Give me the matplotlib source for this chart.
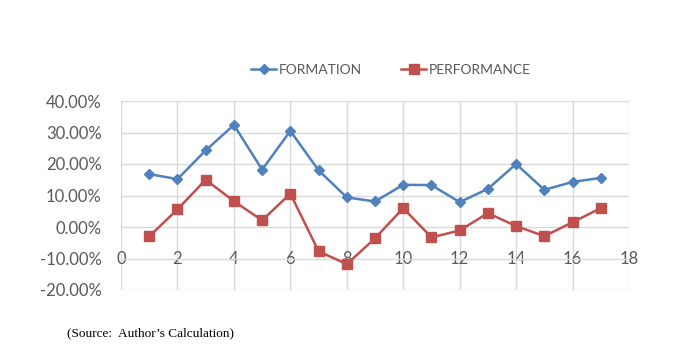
import matplotlib
matplotlib.use("Agg")
import matplotlib.pyplot as plt
from matplotlib.ticker import FuncFormatter, MultipleLocator

# period index and the two series (in %)
periods = list(range(1, 18))
formation = [16.8, 15.2, 24.3, 32.4, 18.2, 30.5, 18.0, 9.4, 8.1,
             13.4, 13.3, 7.9, 12.1, 20.0, 11.8, 14.3, 15.6]
performance = [-3.0, 5.6, 15.0, 8.2, 2.1, 10.6, -7.7, -11.8, -3.6,
               6.0, -3.3, -1.1, 4.4, 0.3, -2.9, 1.5, 6.0]
series_names = ["FORMATION", "PERFORMANCE"]
source_note = "(Source:  Author\u2019s Calculation)"

blue = "#4F81BD"
red = "#C0504D"
grid_col = "#D9D9D9"
label_col = "#595959"

fig = plt.figure(figsize=(6.94, 3.58), dpi=100)
ax = fig.add_axes([121 / 694, 68 / 358, 508 / 694, 189 / 358])

ax.plot(periods, formation, color=blue, lw=1.8, marker="D", ms=5.5,
        label=series_names[0])
ax.plot(periods, performance, color=red, lw=1.8, marker="s", ms=7,
        label=series_names[1])

ax.set_xlim(0, 18)
ax.set_ylim(-20, 40)
ax.xaxis.set_major_locator(MultipleLocator(2))
ax.yaxis.set_major_locator(MultipleLocator(10))
ax.yaxis.set_major_formatter(FuncFormatter(lambda v, p: f"{v:.2f}%"))

# horizontal axis crosses at zero
ax.spines["bottom"].set_position(("data", 0))
for s in ax.spines.values():
    s.set_visible(False)
ax.grid(True, color=grid_col, lw=1)
ax.set_axisbelow(True)
ax.tick_params(axis="both", length=0, colors=label_col, labelsize=12)
ax.tick_params(axis="x", pad=17)
ax.tick_params(axis="y", pad=14)
for lab in ax.get_xticklabels() + ax.get_yticklabels():
    lab.set_fontfamily("Lato")

leg = fig.legend(loc="center", bbox_to_anchor=(391 / 694, 1 - 70 / 358),
                 ncol=2, frameon=False, columnspacing=2.8, handlelength=1.8,
                 handletextpad=0.2, prop={"family": "Lato", "size": 10})
for t in leg.get_texts():
    t.set_color(label_col)

fig.text(67 / 694, 1 - 333 / 358, source_note, family="Liberation Serif",
         fontsize=9.5, va="center", ha="left")

fig.savefig("out.png", dpi=100)
